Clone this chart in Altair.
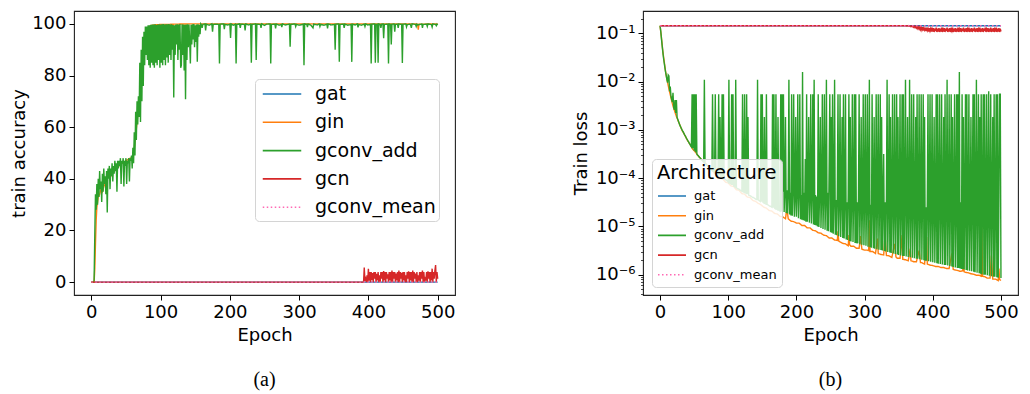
import altair as alt
import pandas as pd

ARCHS = ["gat", "gin", "gconv_add", "gcn", "gconv_mean"]
COLORS = ["#1f77b4", "#ff7f0e", "#2ca02c", "#d62728", "#ff69b4"]
DASHES = [[1, 0], [1, 0], [1, 0], [1, 0], [1.5, 2.5]]
X_TICKS = [0, 100, 200, 300, 400, 500]
ACC_TICKS = [0, 20, 40, 60, 80, 100]
LOSS_TICKS = [1e-6, 1e-5, 1e-4, 1e-3, 1e-2, 1e-1]

# ---------------- panel (a): train accuracy ----------------
GAT_ACC = [(0, 0), (500, 0)]
GCONV_MEAN_ACC = [(0, 0), (500, 0)]
GIN_ACC = [(0, 0), (4, 0), (5, 5), (6, 15), (7, 24), (8, 29), (9, 31), (10, 33), (12, 34), (14, 36),
           (16, 35), (18, 37), (20, 38), (22, 40), (25, 41), (28, 41), (30, 42), (33, 43), (36, 44),
           (40, 45), (43, 46), (46, 46), (50, 47), (53, 47.5), (56, 48), (58, 48), (60, 49), (62, 52),
           (64, 57), (66, 62), (68, 67), (70, 72), (72, 78), (74, 84), (76, 89), (78, 93), (80, 96),
           (82, 98), (84, 99), (86, 99.4), (90, 99.6), (95, 99.7), (100, 99.8), (110, 99.8),
           (120, 99.9), (140, 100), (200, 100), (300, 100), (400, 100), (470, 100), (471, 99.8),
           (472, 97.8), (473, 99.9), (500, 100)]
# gconv_add accuracy, one value per epoch for epochs 0..160
GCONV_ADD_ACC_HEAD = [
    0, 0, 0, 0, 0.5, 18, 34, 28, 38, 30,
    40, 33, 43, 36, 39, 31, 42, 35, 44, 38,
    41, 34, 43, 27, 44, 40, 45, 36, 44, 41,
    46, 39, 45, 42, 47, 43, 46, 35, 47, 44,
    47, 45, 48, 38, 47, 46, 48, 37, 47, 45,
    48, 38, 47, 46, 48, 39, 48, 47, 49, 44,
    52, 46, 58, 49, 66, 55, 70, 61, 72, 64,
    85, 62, 90, 70, 95, 76, 97, 84, 99, 88,
    99, 86, 99.5, 84, 99.5, 83, 99.7, 85, 99.8, 84,
    99.8, 83, 99.9, 85, 99.6, 84, 99.8, 86, 99.9, 83,
    99.8, 85, 99.9, 84, 100, 86, 99.8, 84, 99.9, 87,
    99.9, 85, 100, 88, 99.8, 86, 99.9, 90, 99.6, 71.5,
    99.5, 88, 99.8, 92, 99.9, 86, 99.8, 90, 100, 83,
    84, 99.9, 88, 99.8, 82, 99.7, 70.8, 99.8, 86, 99.9,
    91, 99.8, 93, 84.7, 99.7, 92, 99.9, 94, 100, 91,
    99.5, 93, 99.8, 85.3, 99.9, 95, 99.7, 96, 100, 99.6,
    98.5]
# gconv_add accuracy after epoch 160: (epoch, value) where the trace moves
GCONV_ADD_ACC_TAIL = [
    (161, 99.8), (164, 100), (165, 97.5), (166, 99.9), (170, 99.5), (174, 100), (175, 97), (176, 99.8),
    (180, 99.9), (184, 99.8), (185, 84.7), (186, 99.9), (191, 100), (192, 98), (193, 99.8), (197, 99.6),
    (200, 99.9), (201, 94.6), (202, 100), (205, 99.5), (208, 99.9), (209, 84.7), (210, 99.8), (214, 100),
    (215, 98.5), (216, 99.9), (221, 99.8), (222, 97.5), (223, 100), (227, 99.6), (230, 99.9), (231, 85),
    (232, 99.8), (237, 100), (238, 86), (239, 99.9), (244, 99.8), (245, 98.5), (246, 100), (250, 99.4),
    (253, 99.9), (258, 100), (259, 84.7), (260, 99.8), (265, 99.9), (266, 98.3), (267, 100), (271, 99.5),
    (274, 99.8), (275, 98.8), (276, 100), (280, 99.6), (286, 99.9), (287, 91.2), (288, 99.8), (294, 100),
    (295, 99), (296, 99.8), (300, 99.5), (306, 99.9), (307, 84), (308, 100), (311, 99.8), (312, 98.8),
    (313, 100), (317, 99.5), (320, 98.5), (321, 99.9), (326, 99.6), (329, 100), (330, 99), (331, 99.8),
    (336, 99.5), (340, 99.9), (341, 98.3), (342, 100), (346, 99.6), (351, 99.8), (352, 90), (353, 99.9),
    (357, 100), (358, 85.3), (359, 99.8), (364, 99.9), (365, 98.5), (366, 100), (370, 99.5), (375, 99.8),
    (376, 85.3), (377, 99.9), (381, 99.6), (384, 100), (385, 98.7), (386, 99.8), (390, 99.5), (394, 99.9),
    (395, 99), (396, 100), (399, 99.6), (403, 99.8), (404, 84.7), (405, 99.9), (409, 100), (410, 85),
    (411, 99.8), (413, 99.9), (414, 85), (415, 100), (417, 99.8), (418, 98.5), (419, 99.9), (421, 100),
    (422, 94.5), (423, 99.8), (428, 99.9), (429, 84.7), (430, 100), (432, 99.8), (433, 92), (434, 99.9),
    (437, 100), (438, 97), (439, 99.8), (442, 99.9), (443, 98.5), (444, 100), (448, 99.8), (449, 84.9),
    (450, 99.9), (454, 100), (455, 98.8), (456, 99.7), (460, 99.9), (461, 99.5), (462, 98.5), (463, 100),
    (468, 99.8), (469, 99), (470, 99.9), (471, 99.6), (477, 100), (478, 98.5), (479, 99.8), (484, 99.9),
    (485, 99), (486, 100), (491, 99.7), (492, 98.8), (493, 100), (497, 99.8), (498, 99.3), (499, 99.9),
    (500, 99.5)]
GCN_ACC_HEAD = [(0, 0), (392, 0)]
# gcn accuracy, one value per epoch for epochs 393..500
GCN_ACC_TAIL = [
    0, 5.6, 0.5, 1.3, 0, 2.6, 0,
    5.2, 0.5, 3.9, 0, 3.9, 0.7, 3.5, 0, 3.9, 1.3,
    3.9, 0, 3.2, 0.6, 3.9, 0, 2.6, 0, 3.9, 1.3,
    3.9, 0, 4.3, 0.6, 3.9, 0, 3.9, 1.3, 3.0, 0,
    3.9, 0.6, 3.9, 0, 4.5, 0, 3.9, 1.3, 3.9, 0,
    3.3, 0.6, 3.9, 0, 4.5, 0, 3.9, 1.3, 3.6, 0,
    3.9, 0.6, 3.9, 0, 2.6, 0, 3.9, 1.3, 4.2, 0,
    3.9, 0.6, 3.9, 0, 4.5, 0, 3.9, 1.3, 3.3, 0,
    3.9, 0, 2.6, 0.6, 3.9, 0, 3.9, 1.3, 4.5, 0,
    3.9, 0, 1.3, 0.6, 3.9, 0, 4.2, 1.3, 3.9, 0,
    3.9, 0.6, 5.2, 0, 3.9, 1.3, 4.5, 6.6, 0, 3.9,
    1.3]

# ---------------- panel (b): train loss (log10 of the loss) ----------------
GAT_LOSS_EXP = [(0, -0.84), (500, -0.84)]
GCONV_MEAN_LOSS_EXP = [(0, -0.84), (500, -0.84)]
GIN_LOSS_EXP = [
    (0, -0.84), (2, -1.08), (4, -1.36), (6, -1.57), (8, -1.78), (10, -1.94), (12, -2.08), (14, -2.21),
    (16, -2.33), (18, -2.45), (20, -2.55), (24, -2.72), (28, -2.86), (32, -3.0), (36, -3.1), (40, -3.21),
    (44, -3.3), (48, -3.4), (52, -3.46), (56, -3.54), (60, -3.6), (64, -3.67), (68, -3.71), (72, -3.79),
    (76, -3.82), (80, -3.9), (84, -3.92), (88, -3.99), (92, -4.02), (96, -4.08), (100, -4.1), (104, -4.16),
    (108, -4.17), (112, -4.24), (116, -4.25), (120, -4.32), (124, -4.33), (128, -4.39), (132, -4.4),
    (136, -4.46), (140, -4.48), (144, -4.52), (148, -4.55), (152, -4.6), (156, -4.62), (160, -4.67),
    (164, -4.68), (168, -4.73), (172, -4.74), (176, -4.79), (180, -4.8), (184, -4.84), (186, -4.63),
    (188, -4.84), (192, -4.89), (196, -4.9), (200, -4.93), (204, -4.93), (208, -4.98), (212, -4.98),
    (216, -5.03), (220, -5.03), (224, -5.08), (228, -5.09), (232, -5.13), (236, -5.14), (240, -5.18),
    (244, -5.19), (248, -5.24), (252, -5.24), (256, -5.28), (260, -5.29), (261, -5.1), (262, -5.3),
    (264, -5.32), (268, -5.35), (272, -5.36), (276, -5.4), (277, -5.18), (278, -5.38), (280, -5.41),
    (284, -5.41), (288, -5.45), (292, -5.45), (294, -5.2), (296, -5.47), (300, -5.49), (304, -5.49),
    (306, -5.5), (307, -4.87), (308, -5.52), (312, -5.52), (316, -5.56), (319, -5.25), (320, -5.56),
    (324, -5.58), (328, -5.59), (330, -5.18), (332, -5.6), (336, -5.61), (340, -5.64), (344, -5.36),
    (346, -5.63), (348, -5.66), (352, -5.66), (355, -5.18), (356, -5.68), (360, -5.69), (364, -5.71),
    (367, -5.46), (368, -5.71), (372, -5.73), (376, -5.73), (380, -5.5), (382, -5.75), (384, -5.75),
    (388, -5.78), (391, -5.22), (392, -5.78), (396, -5.8), (400, -5.81), (404, -5.83), (408, -5.83),
    (412, -5.85), (416, -5.85), (420, -5.87), (424, -5.87), (428, -5.56), (430, -5.89), (432, -5.9),
    (436, -5.91), (440, -5.93), (444, -5.92), (445, -5.25), (446, -5.94), (448, -5.95), (452, -5.96),
    (456, -5.98), (460, -5.99), (464, -6.01), (468, -6.01), (471, -6.03), (472, -5.0), (473, -6.03),
    (476, -6.04), (480, -6.07), (484, -6.07), (486, -5.6), (488, -6.09), (492, -6.09), (496, -6.12),
    (497, -5.87), (498, -6.1), (500, -6.12)]
# gconv_add loss exponent, one value per epoch for epochs 0..500
GCONV_ADD_LOSS_EXP = [
    -0.84, -0.95, -1.1, -1.24, -1.37, -1.5, -1.6, -1.7, -1.79, -1.87,
    -1.95, -2.02, -1.86, -1.88, -2.2, -2.1, -2.3, -2.37, -2.42, -2.23,
    -2.53, -2.58, -2.38, -2.65, -2.38, -2.74, -2.78, -2.82, -2.86, -2.9,
    -2.93, -2.96, -2.99, -3.02, -3.04, -3.07, -3.1, -3.12, -3.15, -3.18,
    -3.2, -3.23, -3.25, -3.28, -3.3, -3.33, -3.35, -2.26, -3.38, -2.26,
    -3.43, -2.26, -3.46, -2.26, -3.5, -3.52, -3.53, -3.55, -3.57, -3.58,
    -3.6, -3.62, -3.63, -3.65, -3.66, -1.96, -3.69, -3.7, -3.72, -3.73,
    -3.75, -3.76, -3.78, -3.79, -3.8, -3.81, -3.83, -2.26, -3.85, -3.86,
    -3.87, -2.26, -3.89, -3.9, -3.91, -3.92, -2.26, -3.94, -2.73, -3.96,
    -3.97, -2.26, -3.99, -2.26, -4.0, -4.02, -4.03, -4.04, -4.05, -4.06,
    -4.08, -1.96, -4.1, -4.11, -4.12, -2.26, -4.14, -2.26, -4.16, -4.17,
    -4.18, -1.96, -4.2, -4.21, -4.22, -4.22, -4.23, -4.24, -4.25, -4.26,
    -4.27, -2.26, -4.28, -4.29, -2.26, -4.3, -4.31, -2.26, -4.33, -2.73,
    -4.35, -4.36, -4.36, -4.37, -4.38, -4.39, -4.4, -4.4, -4.41, -4.42,
    -4.43, -4.44, -4.44, -1.96, -4.45, -4.46, -4.47, -4.48, -2.26, -4.49,
    -2.26, -4.5, -4.51, -2.73, -4.52, -4.53, -2.26, -4.54, -4.55, -4.56,
    -4.57, -4.58, -4.58, -4.59, -4.6, -2.26, -4.61, -2.26, -4.62, -4.63,
    -2.26, -4.64, -4.65, -2.73, -4.66, -4.67, -4.68, -2.26, -4.69, -2.26,
    -4.28, -2.26, -4.7, -4.3, -2.73, -4.72, -4.25, -4.73, -4.35, -1.96,
    -4.75, -4.3, -4.77, -2.26, -4.78, -4.22, -2.26, -4.8, -4.4, -2.73,
    -4.8, -4.3, -2.26, -4.83, -4.28, -2.26, -4.85, -4.35, -4.86, -1.8,
    -4.87, -4.3, -4.88, -3.6, -4.9, -2.26, -4.9, -4.32, -2.73, -4.92,
    -4.4, -2.26, -4.94, -4.3, -2.26, -4.96, -1.96, -4.97, -4.35, -4.98,
    -4.38, -5.0, -2.26, -5.01, -4.3, -2.73, -5.03, -4.4, -2.26, -5.05,
    -4.35, -2.26, -5.07, -4.42, -1.96, -5.09, -4.3, -5.1, -3.8, -2.26,
    -5.12, -2.73, -5.13, -2.26, -5.15, -4.4, -1.96, -5.17, -4.45, -5.18,
    -4.35, -2.26, -5.2, -4.5, -2.26, -5.22, -4.38, -2.73, -5.24, -2.26,
    -5.25, -4.42, -2.26, -5.27, -4.5, -5.28, -4.35, -2.26, -5.3, -2.73,
    -5.31, -4.45, -2.26, -5.32, -4.4, -2.26, -5.34, -2.26, -5.35, -4.5,
    -5.35, -4.38, -2.26, -5.37, -4.45, -2.73, -5.38, -4.5, -2.26, -5.39,
    -4.42, -2.26, -5.4, -4.5, -2.26, -5.42, -4.45, -1.96, -5.43, -4.55,
    -5.44, -2.26, -4.5, -5.45, -2.73, -5.46, -4.48, -2.26, -5.47, -4.4,
    -2.26, -5.48, -4.55, -2.26, -5.49, -2.73, -5.5, -4.45, -3.5, -5.51,
    -4.5, -5.52, -4.4, -1.96, -5.53, -4.55, -2.26, -5.54, -2.73, -5.55,
    -4.48, -2.26, -5.56, -4.6, -2.26, -5.57, -4.45, -2.26, -5.58, -2.73,
    -5.59, -4.5, -2.26, -5.6, -4.55, -2.26, -5.61, -2.26, -5.61, -4.4,
    -1.96, -5.62, -4.6, -2.73, -5.63, -4.5, -1.96, -5.64, -4.55, -2.26,
    -5.65, -4.45, -2.26, -5.66, -4.6, -2.73, -5.67, -2.26, -5.67, -4.5,
    -2.26, -5.68, -4.55, -2.26, -5.69, -4.4, -2.26, -5.7, -2.73, -5.71,
    -4.6, -5.71, -4.45, -2.26, -5.72, -4.5, -2.26, -5.73, -4.6, -2.26,
    -5.74, -4.5, -2.73, -5.75, -4.65, -2.26, -5.76, -2.26, -5.77, -4.4,
    -2.26, -5.78, -4.55, -2.26, -5.79, -4.6, -2.73, -5.8, -2.26, -5.8,
    -4.5, -1.96, -5.81, -4.65, -2.26, -5.82, -4.45, -2.26, -5.83, -2.73,
    -5.84, -4.55, -2.26, -5.85, -4.6, -2.26, -5.86, -2.26, -5.86, -1.8,
    -5.87, -4.5, -5.88, -2.26, -5.88, -2.73, -5.89, -4.6, -2.26, -5.9,
    -2.26, -5.91, -4.5, -2.26, -5.92, -4.65, -2.73, -5.93, -4.45, -2.26,
    -5.94, -2.26, -5.95, -4.55, -1.96, -5.96, -4.5, -2.26, -5.97, -2.73,
    -5.98, -2.26, -5.99, -4.4, -2.26, -6.0, -2.26, -6.0, -4.6, -2.26,
    -6.01, -4.5, -2.2, -6.02, -4.55, -2.26, -6.03, -4.45, -2.73, -6.04,
    -2.26, -6.04, -4.6, -2.26, -6.05, -2.26, -6.06, -4.5, -2.26, -2.26,
    -6.07]
GCN_LOSS_HEAD = [(0, -0.84), (359, -0.84)]
# gcn loss exponent, one value per epoch for epochs 360..500
GCN_LOSS_TAIL = [
    -0.84, -0.84, -0.845, -0.84, -0.85, -0.84, -0.85, -0.845, -0.86, -0.845,
    -0.86, -0.85, -0.87, -0.85, -0.88, -0.86, -0.89, -0.86, -0.9, -0.87,
    -0.91, -0.87, -0.92, -0.88, -0.93, -0.87, -0.94, -0.89, -0.93, -0.88,
    -0.95, -0.88, -0.94, -0.9, -0.96, -0.89, -0.95, -0.9, -0.96, -0.88,
    -0.96, -0.89, -0.97, -0.9, -0.95, -0.88, -0.97, -0.9, -0.96, -0.89,
    -0.97, -0.9, -0.96, -0.88, -0.97, -0.91, -0.96, -0.89, -0.97, -0.9,
    -0.95, -0.88, -0.97, -0.9, -0.96, -0.89, -0.97, -0.91, -0.95, -0.88,
    -0.97, -0.9, -0.96, -0.89, -0.97, -0.9, -0.96, -0.88, -0.97, -0.91,
    -0.96, -0.89, -0.97, -0.9, -0.95, -0.88, -0.97, -0.9, -0.96, -0.89,
    -0.97, -0.91, -0.96, -0.88, -0.97, -0.9, -0.96, -0.89, -0.97, -0.9,
    -0.95, -0.88, -0.97, -0.9, -0.96, -0.89, -0.97, -0.91, -0.96, -0.88,
    -0.97, -0.9, -0.96, -0.89, -0.97, -0.9, -0.95, -0.88, -0.97, -0.91,
    -0.96, -0.89, -0.97, -0.9, -0.96, -0.88, -0.97, -0.9, -0.96, -0.89,
    -0.97, -0.91, -0.96, -0.88, -0.97, -0.9, -0.96, -0.89, -0.97, -0.9,
    -0.96]


def frame(arch, pairs):
    return pd.DataFrame({"epoch": [p[0] for p in pairs],
                         "value": [p[1] for p in pairs],
                         "arch": arch})


def per_epoch(start, values):
    return [(start + i, v) for i, v in enumerate(values)]


def exp_pairs(pairs):
    return [(e, 10 ** v) for e, v in pairs]


acc_data = {
    "gat": frame("gat", GAT_ACC),
    "gin": frame("gin", GIN_ACC),
    "gconv_add": frame("gconv_add", per_epoch(0, GCONV_ADD_ACC_HEAD) + GCONV_ADD_ACC_TAIL),
    "gcn": frame("gcn", GCN_ACC_HEAD + per_epoch(393, GCN_ACC_TAIL)),
    "gconv_mean": frame("gconv_mean", GCONV_MEAN_ACC),
}
loss_data = {
    "gat": frame("gat", exp_pairs(GAT_LOSS_EXP)),
    "gin": frame("gin", exp_pairs(GIN_LOSS_EXP)),
    "gconv_add": frame("gconv_add", exp_pairs(per_epoch(0, GCONV_ADD_LOSS_EXP))),
    "gcn": frame("gcn", exp_pairs(GCN_LOSS_HEAD + per_epoch(360, GCN_LOSS_TAIL))),
    "gconv_mean": frame("gconv_mean", exp_pairs(GCONV_MEAN_LOSS_EXP)),
}

FONT = "DejaVu Sans"
color_scale = alt.Scale(domain=ARCHS, range=COLORS)
dash_scale = alt.Scale(domain=ARCHS, range=DASHES)
x_enc = alt.X("epoch:Q", scale=alt.Scale(domain=[-25, 525], nice=False, zero=False),
              axis=alt.Axis(values=X_TICKS, title="Epoch", format="d"))

legend_a = alt.Legend(title=None, orient="none", legendX=181, legendY=68,
                      labelFontSize=19, labelFont=FONT, labelColor="black",
                      symbolType="M-1.75,0H1.75", symbolSize=484, symbolStrokeWidth=1.6,
                      symbolOffset=12, labelOffset=21, rowPadding=6.3, padding=3,
                      strokeColor="#d4d4d4", fillColor="rgba(255,255,255,0.85)",
                      cornerRadius=4)
legend_b = alt.Legend(title="Architecture", titleFontSize=19.5, titleFont=FONT,
                      titleFontWeight="normal", titleColor="black", titlePadding=4.5,
                      orient="none", legendX=9, legendY=148,
                      labelFontSize=13, labelFont=FONT, labelColor="black",
                      symbolType="M-2,0H2", symbolSize=196, symbolStrokeWidth=1.6,
                      symbolOffset=7, labelOffset=14, rowPadding=4.7, padding=5,
                      strokeColor="#d4d4d4", fillColor="rgba(255,255,255,0.85)",
                      cornerRadius=4)


def panel(data, y_enc, legend):
    layers = []
    for arch in ARCHS:
        layers.append(
            alt.Chart(data[arch]).mark_line(strokeWidth=1.4, clip=True).encode(
                x=x_enc,
                y=y_enc,
                color=alt.Color("arch:N", scale=color_scale, legend=legend),
                strokeDash=alt.StrokeDash("arch:N", scale=dash_scale, legend=legend),
            )
        )
    return layers


acc_y = alt.Y("value:Q", scale=alt.Scale(domain=[-5, 105], nice=False, zero=False),
              axis=alt.Axis(values=ACC_TICKS, title="train accuracy", titlePadding=3))

loss_scale = alt.Scale(type="log", domain=[10 ** -6.42, 10 ** -0.535], nice=False)
minor_vals = [k * 10 ** p for p in range(-7, 0) for k in range(2, 10)
              if 10 ** -6.42 <= k * 10 ** p <= 10 ** -0.535]
is_major = "abs(log(datum.value)/LN10 - round(log(datum.value)/LN10)) < 0.01"
label_expr = ("!(" + is_major + ") ? '' : "
              "datum.value > 0.05 ? '10⁻¹' : datum.value > 0.005 ? '10⁻²' : "
              "datum.value > 0.0005 ? '10⁻³' : datum.value > 0.00005 ? '10⁻⁴' : "
              "datum.value > 0.000005 ? '10⁻⁵' : '10⁻⁶'")
loss_y = alt.Y("value:Q", scale=loss_scale,
               axis=alt.Axis(values=sorted(LOSS_TICKS + minor_vals), labelExpr=label_expr,
                             labelOverlap=False, title="Train loss",
                             tickSize={"condition": {"test": is_major, "value": 5}, "value": 2.5},
                             tickWidth={"condition": {"test": is_major, "value": 1}, "value": 0.7}))

caption = dict(orient="bottom", font="Liberation Serif", fontSize=20, fontWeight="normal",
               color="black", offset=26, anchor="middle")

chart_a = alt.layer(*panel(acc_data, acc_y, legend_a)).properties(
    width=381, height=284, title=alt.TitleParams("(a)", **caption))
chart_b = alt.layer(*panel(loss_data, loss_y, legend_b)).properties(
    width=375, height=284, title=alt.TitleParams("(b)", **caption))

chart = alt.hconcat(chart_a, chart_b, spacing=115).resolve_scale(
    color="independent", strokeDash="independent"
).properties(
    padding={"left": 2, "top": 1, "right": 0, "bottom": 0}
).configure_view(stroke="#222222", strokeWidth=1.1).configure_axis(
    labelFont=FONT, labelFontSize=18, labelColor="black", titleFont=FONT, titleFontSize=18,
    titleFontWeight="normal", titleColor="black", tickColor="black", tickSize=5,
    labelPadding=3, titlePadding=5, domain=False, grid=False
)

chart.save("out.html", embed_options={"renderer": "svg", "actions": False})
